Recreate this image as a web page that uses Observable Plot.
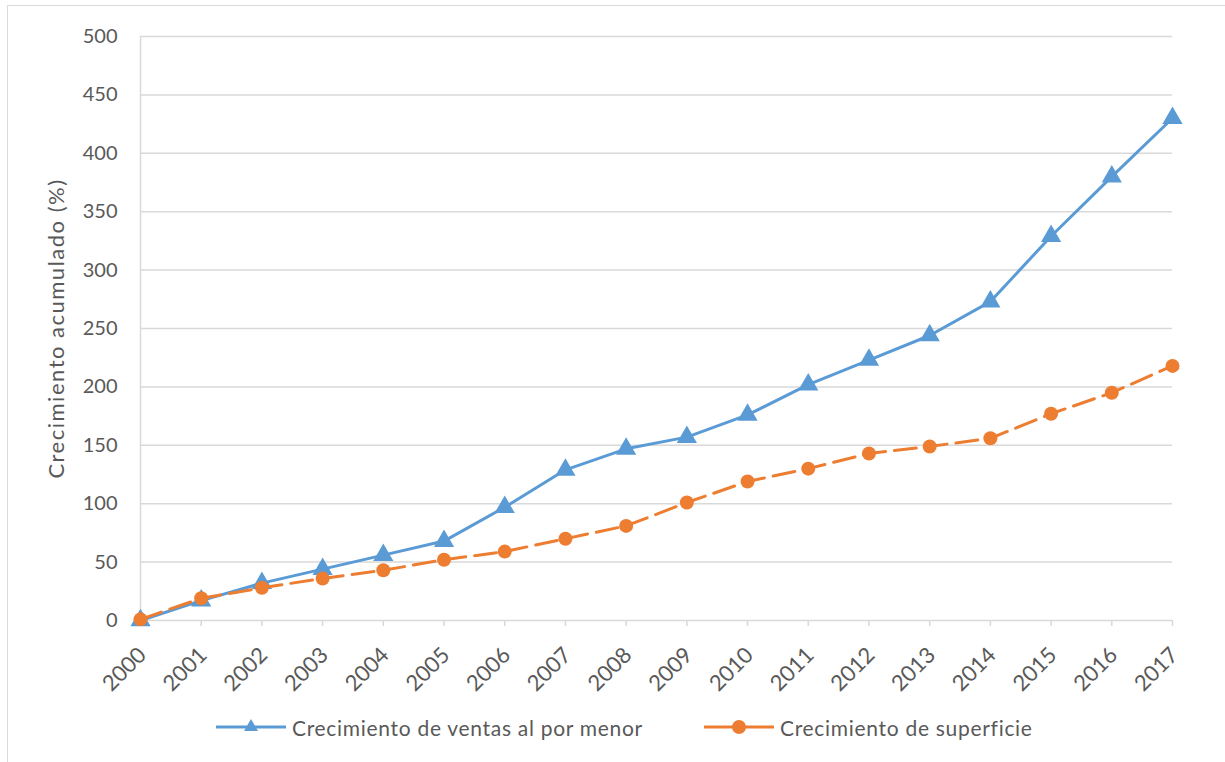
<!DOCTYPE html>
<html><head><meta charset="utf-8">
<script src="https://cdn.jsdelivr.net/npm/d3@7"></script>
<script src="https://cdn.jsdelivr.net/npm/@observablehq/plot@0.6"></script>
<style>
body{margin:0;background:#fff;font-family:Lato,sans-serif;}
#wrap{position:relative;width:1225px;height:762px;overflow:hidden;background:#fff;}
#frame{position:absolute;left:7px;top:5px;width:1240px;height:800px;border:1px solid #d9d9d9;}
#chart{position:absolute;left:0;top:0;}
#legend{position:absolute;top:714px;left:0;width:1225px;height:26px;font-size:21px;letter-spacing:0.7px;color:#595959;}
.item{position:absolute;top:0;display:flex;align-items:center;white-space:nowrap;height:26px}
.item svg{margin-right:6px}
#chart g[aria-label="y-axis label"] text{font-size:22px;letter-spacing:1.5px;}
</style></head><body>
<div id="wrap"><div id="frame"></div><div id="chart"></div><div id="legend"></div></div>
<script>
const years = [2000,2001,2002,2003,2004,2005,2006,2007,2008,2009,2010,2011,2012,2013,2014,2015,2016,2017];
const ventas = [0,17,32,44,56,68,97,129,147,157,176,202,223,244,273,329,380,430];
const superficie = [1,19,28,36,43,52,59,70,81,101,119,130,143,149,156,177,195,218];
const yTicks = [0,50,100,150,200,250,300,350,400,450,500];
const seriesNames = ["Crecimiento de ventas al por menor","Crecimiento de superficie"];
const colors = ["#5B9BD5","#ED7D31"];
const yLabel = "Crecimiento acumulado (%)";

const dataV = years.map((y,i)=>({year:y, value:ventas[i]}));
const dataS = years.map((y,i)=>({year:y, value:superficie[i]}));

const chart = Plot.plot({
  width:1225, height:690,
  marginLeft:140, marginRight:53, marginTop:36, marginBottom:70,
  style:{fontFamily:"Lato, sans-serif", fontSize:"20px", color:"#595959", background:"transparent", overflow:"visible"},
  x:{domain:[2000,2017], type:"linear"},
  y:{domain:[0,500]},
  marks:[
    Plot.ruleY(yTicks,{stroke:"#d9d9d9", strokeWidth:1.5}),
    Plot.ruleX([2000],{stroke:"#d9d9d9", strokeWidth:1.5}),
    Plot.axisY({ticks:yTicks, tickSize:0, tickPadding:23, fill:"#595959", label:yLabel, labelAnchor:"center", labelArrow:"none", labelOffset:92}),
    Plot.axisX({ticks:years, tickFormat:()=>"", tickSize:6, stroke:"#d9d9d9", strokeWidth:1.5, label:null}),
    Plot.axisX({ticks:years, tickFormat:d=>String(d), tickSize:0, tickRotate:-45, fontSize:22, fill:"#595959", tickPadding:8, dy:23, dx:2, label:null}),
    Plot.line(dataV,{x:"year",y:"value",stroke:colors[0],strokeWidth:3}),
    Plot.dot(dataV,{x:"year",y:"value",symbol:"triangle",r:7.5,fill:colors[0]}),
    Plot.line(dataS,{x:"year",y:"value",stroke:colors[1],strokeWidth:3,strokeDasharray:"22,9"}),
    Plot.dot(dataS,{x:"year",y:"value",r:7,fill:colors[1]})
  ]
});
document.getElementById("chart").appendChild(chart);

const legend = document.getElementById("legend");
const lx = [216, 704];
seriesNames.forEach((name,i)=>{
  const item = document.createElement("div");
  item.className = "item";
  item.style.left = lx[i] + "px";
  const marker = i===0
    ? `<path d="M35,5 L42,17 L28,17 Z" fill="${colors[0]}"/>`
    : `<circle cx="35" cy="13" r="7" fill="${colors[1]}"/>`;
  item.innerHTML = `<svg width="70" height="26"><line x1="0" x2="70" y1="13" y2="13" stroke="${colors[i]}" stroke-width="3"/>${marker}</svg><span>${name}</span>`;
  legend.appendChild(item);
});
</script>
</body></html>
